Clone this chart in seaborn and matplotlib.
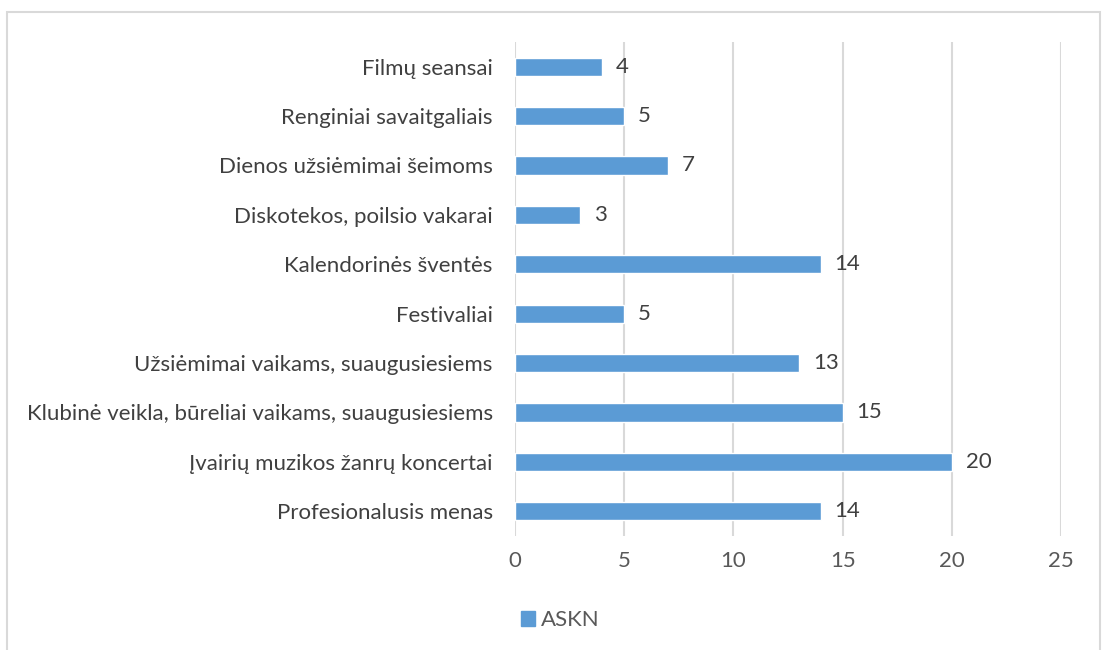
import matplotlib.pyplot as plt
import numpy as np
import pandas as pd
import seaborn as sns
from matplotlib.patches import Patch, Rectangle

categories = ['Filmų seansai', 'Renginiai savaitgaliais', 'Dienos užsiėmimai šeimoms',
              'Diskotekos, poilsio vakarai', 'Kalendorinės šventės', 'Festivaliai',
              'Užsiėmimai vaikams, suaugusiesiems',
              'Klubinė veikla, būreliai vaikams, suaugusiesiems',
              'Įvairių muzikos žanrų koncertai', 'Profesionalusis menas']
values = [4, 5, 7, 3, 14, 5, 13, 15, 20, 14]
series_name = 'ASKN'
x_ticks = [0, 5, 10, 15, 20, 25]

df = pd.DataFrame({'category': categories, 'value': values})

sns.set_style('white')
plt.rcParams['font.family'] = ['Lato', 'DejaVu Sans']

bar_color = '#5B9BD5'
text_color = '#595959'
grid_color = '#D9D9D9'
fs = 16

fig = plt.figure(figsize=(11.02, 6.5), dpi=100)
ax = fig.add_axes([0.4673, 0.1754, 0.4955, 0.76])

sns.barplot(data=df, x='value', y='category', orient='h', color=bar_color,
            width=0.37, saturation=1, ax=ax)

ax.set_xlim(0, 25)
ax.set_xticks(x_ticks)
ax.grid(axis='x', color=grid_color, linewidth=1.5)
ax.set_axisbelow(True)
for s in ax.spines.values():
    s.set_visible(False)
ax.tick_params(axis='both', length=0, labelsize=fs, labelcolor=text_color)
ax.tick_params(axis='x', pad=11)
ax.tick_params(axis='y', pad=16)
for lbl in ax.get_yticklabels():
    lbl.set_color('#404040')
ax.set_xlabel('')
ax.set_ylabel('')

ax.bar_label(ax.containers[0], labels=[str(v) for v in values], padding=10,
             fontsize=fs, color='#404040')

# chart border like in excel
fig.patches.append(Rectangle((7 / 1102, -0.05), 1093 / 1102, 1.05 - 12 / 650,
                             transform=fig.transFigure, fill=False,
                             edgecolor=grid_color, linewidth=1.5))

fig.legend(handles=[Patch(color=bar_color, label=series_name)],
           loc='center left', bbox_to_anchor=(0.455, 0.046), frameon=False,
           fontsize=fs, labelcolor=text_color, handlelength=0.6,
           handleheight=0.7, handletextpad=0.3)

fig.savefig('out.png', dpi=100)
